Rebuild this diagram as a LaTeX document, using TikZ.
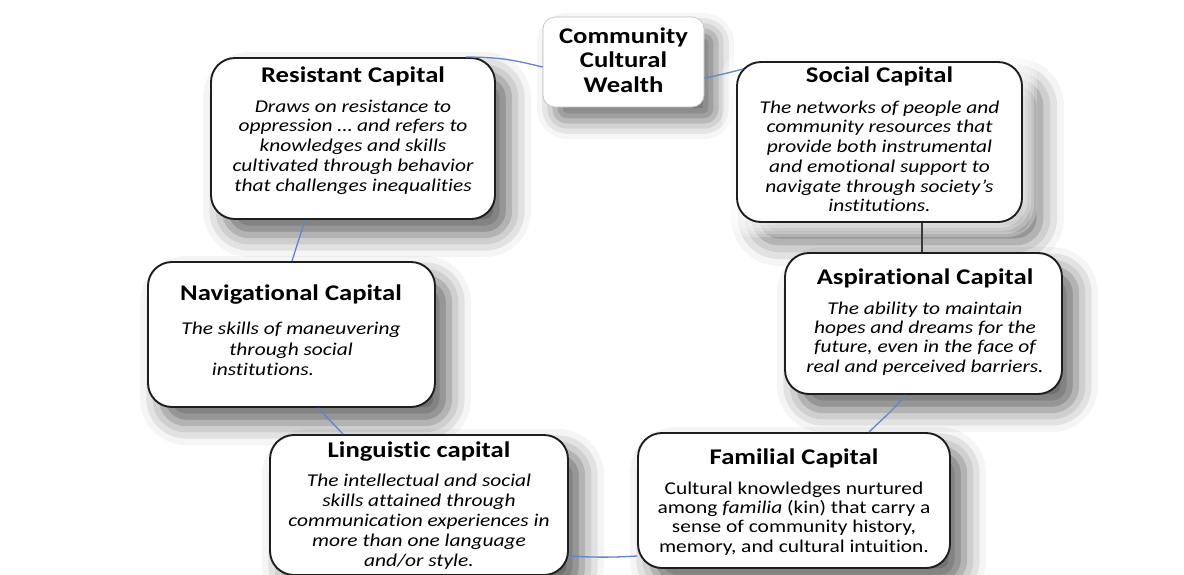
\documentclass[tikz,border=0pt]{standalone}
\usepackage{fontspec}
\setmainfont{Carlito}[FakeStretch=1.19, Ligatures=CommonOff]
\usetikzlibrary{calc,shadows.blur}
\definecolor{linkblue}{HTML}{5E86C8}
\definecolor{boxline}{HTML}{1E1E1E}
\definecolor{linkgray}{HTML}{3A3A3A}
\begin{document}
\begin{tikzpicture}[x=1pt,y=-1pt,
  capbox/.style={draw=boxline, line width=1.9pt, fill=white, rounded corners=24pt, inner sep=0pt},
  capshadow/.style={blur shadow={shadow xshift=14pt, shadow yshift=-16pt, shadow blur radius=22pt, shadow opacity=60}},
  hubbox/.style={draw=black!25, line width=0.6pt, fill=white, rounded corners=12pt, inner sep=0pt,
     blur shadow={shadow xshift=12pt, shadow yshift=-14pt, shadow blur radius=18pt, shadow opacity=55}},
  captitle/.style={anchor=base, inner sep=0pt, font=\fontsize{22.4}{24.5}\selectfont\bfseries},
  capbody/.style={anchor=north, inner sep=0pt, align=center, font=\fontsize{18}{19.7}\selectfont\itshape},
  link/.style={draw=linkblue, line width=1.3pt},
  darklink/.style={draw=linkgray, line width=1.3pt},
  glow/.style={fill=white, fill opacity=0.25, rounded corners=30pt},
]
\useasboundingbox (0,0) rectangle (1184,574);

% hub
\node[hubbox, minimum width=161pt, minimum height=90pt] (com) at (623.5,62) {};
\node[anchor=north, inner sep=0pt, align=center, font=\fontsize{22.4}{24.5}\selectfont\bfseries] (comtext) at (623.5,27)
  {\rule{0pt}{16pt}Community\\Cultural\\Wealth};

% resistant capital
\node[capbox, capshadow, minimum width=284pt, minimum height=161pt] (res) at (353,138.5) {};
\node[captitle] (restitle) at (353,82) {Resistant Capital};
\node[capbody] (resbody) at (353,98)
  {\rule{0pt}{14pt}Draws on resistance to\\oppression … and refers to\\knowledges and skills\\cultivated through behavior\\that challenges inequalities};

% social capital with its white glow
\path[rounded corners=24pt, blur shadow={shadow xshift=18pt, shadow yshift=-20pt, shadow blur radius=24pt, shadow opacity=60}]
  (737,62) rectangle (1022,222);
\foreach \g in {3,6,...,15}
  \fill[glow] (737-\g,62-\g) rectangle (1022+\g,222+\g);
\node[capbox, minimum width=285pt, minimum height=160pt] (soc) at (879.5,142) {};
\node[captitle] (soctitle) at (879.5,82.5) {Social Capital};
\node[capbody] (socbody) at (879.5,99)
  {\rule{0pt}{14pt}The networks of people and\\community resources that\\provide both instrumental\\and emotional support to\\navigate through society’s\\institutions.};

% aspirational capital
\node[capbox, capshadow, minimum width=277pt, minimum height=141pt] (asp) at (923.5,323.5) {};
\node[captitle] (asptitle) at (925,284.5) {Aspirational Capital};
\node[capbody, font=\fontsize{18}{19.3}\selectfont\itshape] (aspbody) at (925,300)
  {\rule{0pt}{14pt}The ability to maintain\\hopes and dreams for the\\future, even in the face of\\real and perceived barriers.};

% navigational capital
\node[capbox, capshadow, minimum width=287pt, minimum height=145pt] (nav) at (291.5,334.5) {};
\node[captitle] (navtitle) at (291,300.5) {Navigational Capital};
\node[capbody, font=\fontsize{18}{20.8}\selectfont\itshape] (navbody) at (291,320)
  {\rule{0pt}{14pt}The skills of maneuvering\\through social\\institutions.\hspace*{56pt}};

% linguistic capital
\node[capbox, capshadow, minimum width=298pt, minimum height=140pt] (ling) at (419,505) {};
\node[captitle] (lingtitle) at (419,457.5) {Linguistic capital};
\node[capbody, font=\fontsize{18}{20}\selectfont\itshape] (lingbody) at (419,472)
  {\rule{0pt}{14pt}The intellectual and social\\skills attained through\\communication experiences in\\more than one language\\and/or style.};

% familial capital
\node[capbox, capshadow, minimum width=312pt, minimum height=135pt] (fam) at (794,500.5) {};
\node[captitle] (famtitle) at (794,464.5) {Familial Capital};
\node[capbody, font=\fontsize{18}{19.3}\selectfont\upshape] (fambody) at (794,480)
  {\rule{0pt}{14pt}Cultural knowledges nurtured\\among \textit{familia} (kin) that carry a\\sense of community history,\\memory, and cultural intuition.};

% cycle connectors
\draw[link] ($(res.north west)+(256,0)$) .. controls +(40,0) and +(-22,-5) .. ($(com.west)+(0,5)$);
\draw[link] ($(com.east)+(0,16)$) .. controls +(12,-2) and +(-12,3) .. ($(soc.north west)+(7,8)$);
\draw[darklink] ($(soc.south)+(42.5,0)$) -- ($(asp.north)+(-1.5,0)$);
\draw[link] ($(asp.south)+(-18.5,0)$) .. controls +(-10,14) and +(12,-12) .. ($(fam.north)+(75,0)$);
\draw[link] ($(fam.west)+(0,55.5)$) .. controls +(-25,1.5) and +(25,1.5) .. ($(ling.east)+(0,51)$);
\draw[link] ($(ling.north)+(-76,0)$) -- ($(nav.south)+(26.5,0)$);
\draw[link] ($(nav.north)+(0.5,0)$) -- ($(res.south)+(-48,0)$);
\end{tikzpicture}
\end{document}
